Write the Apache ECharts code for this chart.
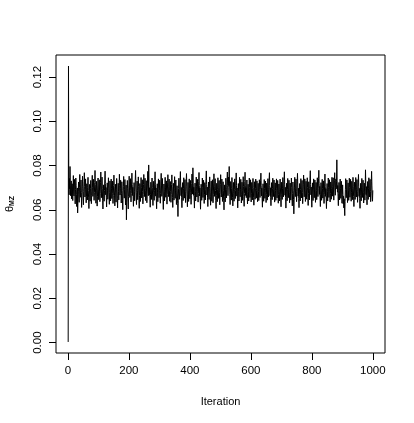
<!DOCTYPE html>
<html>
<head>
<meta charset="utf-8">
<script src="https://cdn.jsdelivr.net/npm/echarts@6/dist/echarts.min.js"></script>
<style>html,body{margin:0;padding:0;background:#fff}#c{width:414px;height:423px}</style>
</head>
<body>
<div id="c"></div>
<script>
// theta_MZ trace values, iterations 1..1000
var trace001_100 = [0.0003,0.1250,0.0703,0.0668,0.0742,0.0695,0.0796,0.0712,0.0664,0.0689,
0.0731,0.0650,0.0676,0.0718,0.0694,0.0642,0.0703,0.0755,0.0681,0.0663,
0.0712,0.0738,0.0670,0.0627,0.0691,0.0744,0.0709,0.0668,0.0615,0.0652,
0.0699,0.0586,0.0640,0.0683,0.0726,0.0671,0.0634,0.0702,0.0760,0.0714,
0.0657,0.0688,0.0735,0.0679,0.0611,0.0649,0.0706,0.0752,0.0697,0.0662,
0.0623,0.0684,0.0729,0.0768,0.0705,0.0658,0.0691,0.0740,0.0676,0.0632,
0.0660,0.0718,0.0692,0.0645,0.0701,0.0747,0.0688,0.0654,0.0606,0.0668,
0.0715,0.0672,0.0639,0.0697,0.0733,0.0682,0.0628,0.0665,0.0721,0.0756,
0.0700,0.0661,0.0694,0.0738,0.0685,0.0643,0.0679,0.0724,0.0778,0.0716,
0.0667,0.0630,0.0686,0.0729,0.0671,0.0617,0.0659,0.0708,0.0744,0.0690];
var trace101_200 = [0.0646,0.0698,0.0736,0.0681,0.0637,0.0673,0.0725,0.0771,0.0709,0.0655,
0.0692,0.0748,0.0695,0.0641,0.0604,0.0662,0.0713,0.0684,0.0639,0.0687,
0.0735,0.0775,0.0719,0.0668,0.0701,0.0656,0.0613,0.0670,0.0722,0.0689,
0.0648,0.0696,0.0745,0.0703,0.0659,0.0625,0.0677,0.0731,0.0685,0.0640,
0.0693,0.0739,0.0698,0.0651,0.0686,0.0730,0.0674,0.0629,0.0666,0.0711,
0.0757,0.0704,0.0663,0.0618,0.0672,0.0716,0.0680,0.0635,0.0690,0.0742,
0.0694,0.0652,0.0609,0.0664,0.0720,0.0683,0.0645,0.0699,0.0761,0.0710,
0.0667,0.0697,0.0734,0.0678,0.0631,0.0675,0.0727,0.0688,0.0644,0.0601,
0.0658,0.0706,0.0751,0.0700,0.0653,0.0692,0.0737,0.0681,0.0622,0.0668,
0.0712,0.0555,0.0633,0.0686,0.0733,0.0695,0.0649,0.0604,0.0661,0.0708];
var trace201_300 = [0.0752,0.0699,0.0656,0.0693,0.0741,0.0688,0.0636,0.0674,0.0726,0.0766,
0.0714,0.0665,0.0702,0.0659,0.0616,0.0671,0.0723,0.0684,0.0641,0.0690,
0.0739,0.0778,0.0717,0.0663,0.0624,0.0679,0.0730,0.0687,0.0646,0.0698,
0.0749,0.0705,0.0657,0.0607,0.0665,0.0719,0.0682,0.0638,0.0694,0.0746,
0.0701,0.0654,0.0691,0.0736,0.0683,0.0627,0.0669,0.0715,0.0760,0.0707,
0.0660,0.0697,0.0743,0.0689,0.0642,0.0676,0.0732,0.0685,0.0632,0.0672,
0.0721,0.0774,0.0711,0.0664,0.0803,0.0716,0.0667,0.0700,0.0653,0.0612,
0.0668,0.0725,0.0691,0.0647,0.0696,0.0744,0.0702,0.0658,0.0620,0.0677,
0.0729,0.0686,0.0643,0.0689,0.0738,0.0772,0.0713,0.0662,0.0699,0.0651,
0.0605,0.0666,0.0718,0.0680,0.0637,0.0692,0.0740,0.0697,0.0655,0.0687];
var trace301_400 = [0.0734,0.0679,0.0630,0.0673,0.0726,0.0765,0.0708,0.0661,0.0695,0.0742,
0.0690,0.0645,0.0602,0.0663,0.0717,0.0684,0.0640,0.0693,0.0747,0.0703,
0.0657,0.0688,0.0731,0.0676,0.0626,0.0670,0.0722,0.0759,0.0706,0.0660,
0.0694,0.0739,0.0686,0.0639,0.0678,0.0728,0.0683,0.0634,0.0669,0.0714,
0.0758,0.0704,0.0656,0.0611,0.0667,0.0720,0.0681,0.0644,0.0698,0.0750,
0.0700,0.0652,0.0689,0.0735,0.0680,0.0624,0.0662,0.0709,0.0676,0.0628,
0.0570,0.0641,0.0697,0.0743,0.0691,0.0648,0.0685,0.0732,0.0773,0.0712,
0.0664,0.0701,0.0655,0.0610,0.0668,0.0723,0.0687,0.0642,0.0696,0.0745,
0.0699,0.0653,0.0690,0.0737,0.0682,0.0633,0.0675,0.0727,0.0764,0.0707,
0.0659,0.0614,0.0671,0.0724,0.0686,0.0638,0.0692,0.0740,0.0698,0.0650];
var trace401_500 = [0.0688,0.0733,0.0678,0.0625,0.0666,0.0719,0.0762,0.0709,0.0671,0.0790,
0.0718,0.0666,0.0702,0.0654,0.0608,0.0665,0.0721,0.0683,0.0640,0.0695,
0.0748,0.0704,0.0658,0.0692,0.0738,0.0684,0.0635,0.0674,0.0729,0.0769,
0.0710,0.0663,0.0699,0.0651,0.0603,0.0662,0.0716,0.0681,0.0643,0.0697,
0.0744,0.0701,0.0656,0.0689,0.0734,0.0679,0.0629,0.0670,0.0723,0.0687,
0.0645,0.0693,0.0742,0.0776,0.0715,0.0667,0.0703,0.0657,0.0615,0.0672,
0.0726,0.0690,0.0647,0.0698,0.0749,0.0705,0.0659,0.0621,0.0677,0.0730,
0.0685,0.0639,0.0686,0.0736,0.0681,0.0632,0.0668,0.0717,0.0763,0.0706,
0.0661,0.0696,0.0741,0.0688,0.0642,0.0606,0.0664,0.0720,0.0682,0.0637,
0.0691,0.0745,0.0700,0.0652,0.0689,0.0733,0.0677,0.0623,0.0669,0.0714];
var trace501_600 = [0.0759,0.0705,0.0658,0.0694,0.0739,0.0685,0.0638,0.0675,0.0727,0.0686,
0.0641,0.0600,0.0660,0.0713,0.0680,0.0636,0.0690,0.0743,0.0701,0.0654,
0.0691,0.0737,0.0771,0.0711,0.0664,0.0702,0.0748,0.0710,0.0796,0.0721,
0.0669,0.0624,0.0676,0.0728,0.0688,0.0644,0.0697,0.0746,0.0703,0.0657,
0.0618,0.0673,0.0724,0.0684,0.0639,0.0692,0.0740,0.0697,0.0651,0.0687,
0.0732,0.0767,0.0709,0.0662,0.0699,0.0653,0.0609,0.0666,0.0719,0.0682,
0.0640,0.0694,0.0747,0.0704,0.0659,0.0693,0.0738,0.0683,0.0631,0.0671,
0.0725,0.0687,0.0643,0.0698,0.0750,0.0706,0.0661,0.0616,0.0674,0.0728,
0.0770,0.0712,0.0665,0.0700,0.0655,0.0689,0.0735,0.0680,0.0627,0.0668,
0.0716,0.0684,0.0640,0.0695,0.0744,0.0701,0.0656,0.0690,0.0736,0.0681];
var trace601_700 = [0.0636,0.0675,0.0724,0.0686,0.0645,0.0696,0.0742,0.0700,0.0657,0.0621,
0.0676,0.0727,0.0690,0.0648,0.0697,0.0739,0.0695,0.0653,0.0688,0.0731,
0.0680,0.0637,0.0673,0.0720,0.0683,0.0642,0.0692,0.0736,0.0699,0.0656,
0.0691,0.0734,0.0766,0.0709,0.0663,0.0698,0.0651,0.0612,0.0667,0.0718,
0.0681,0.0639,0.0689,0.0737,0.0696,0.0652,0.0687,0.0730,0.0678,0.0633,
0.0670,0.0721,0.0685,0.0644,0.0694,0.0741,0.0700,0.0658,0.0693,0.0738,
0.0768,0.0710,0.0664,0.0700,0.0655,0.0619,0.0672,0.0723,0.0686,0.0646,
0.0697,0.0743,0.0702,0.0660,0.0692,0.0735,0.0681,0.0635,0.0674,0.0722,
0.0687,0.0643,0.0695,0.0740,0.0698,0.0654,0.0689,0.0733,0.0679,0.0630,
0.0669,0.0717,0.0683,0.0641,0.0693,0.0739,0.0699,0.0657,0.0614,0.0671];
var trace701_800 = [0.0725,0.0688,0.0647,0.0698,0.0746,0.0703,0.0659,0.0694,0.0738,0.0772,
0.0713,0.0666,0.0702,0.0656,0.0608,0.0667,0.0720,0.0684,0.0641,0.0693,
0.0742,0.0700,0.0655,0.0690,0.0734,0.0680,0.0632,0.0670,0.0721,0.0685,
0.0644,0.0696,0.0744,0.0701,0.0658,0.0618,0.0673,0.0726,0.0689,0.0646,
0.0582,0.0649,0.0699,0.0747,0.0704,0.0660,0.0695,0.0739,0.0684,0.0637,
0.0675,0.0728,0.0765,0.0708,0.0662,0.0698,0.0652,0.0610,0.0668,0.0719,
0.0682,0.0640,0.0692,0.0741,0.0699,0.0654,0.0689,0.0733,0.0679,0.0628,
0.0667,0.0716,0.0757,0.0704,0.0659,0.0694,0.0740,0.0686,0.0638,0.0676,
0.0729,0.0690,0.0648,0.0697,0.0745,0.0702,0.0657,0.0620,0.0675,0.0727,
0.0688,0.0645,0.0696,0.0743,0.0777,0.0715,0.0668,0.0703,0.0658,0.0612];
var trace801_900 = [0.0669,0.0722,0.0685,0.0642,0.0694,0.0740,0.0699,0.0655,0.0690,0.0735,
0.0681,0.0634,0.0672,0.0724,0.0687,0.0646,0.0697,0.0745,0.0703,0.0660,
0.0695,0.0741,0.0779,0.0718,0.0670,0.0706,0.0659,0.0615,0.0671,0.0723,
0.0686,0.0643,0.0692,0.0738,0.0697,0.0653,0.0688,0.0731,0.0677,0.0629,
0.0668,0.0717,0.0762,0.0707,0.0661,0.0696,0.0650,0.0606,0.0665,0.0719,
0.0683,0.0640,0.0693,0.0744,0.0701,0.0656,0.0691,0.0736,0.0682,0.0636,
0.0674,0.0726,0.0689,0.0648,0.0698,0.0747,0.0705,0.0662,0.0699,0.0745,
0.0690,0.0644,0.0685,0.0732,0.0768,0.0712,0.0666,0.0701,0.0740,0.0695,
0.0728,0.0826,0.0734,0.0680,0.0710,0.0659,0.0619,0.0673,0.0724,0.0687,
0.0645,0.0694,0.0739,0.0698,0.0652,0.0686,0.0729,0.0676,0.0630,0.0668];
var trace901_1000 = [0.0713,0.0670,0.0627,0.0661,0.0609,0.0650,0.0604,0.0574,0.0638,0.0692,
0.0741,0.0700,0.0655,0.0690,0.0735,0.0681,0.0633,0.0671,0.0722,0.0686,
0.0643,0.0696,0.0743,0.0701,0.0657,0.0692,0.0738,0.0684,0.0639,0.0677,
0.0729,0.0688,0.0646,0.0698,0.0747,0.0704,0.0660,0.0615,0.0672,0.0725,
0.0690,0.0647,0.0699,0.0746,0.0702,0.0658,0.0693,0.0737,0.0682,0.0634,
0.0673,0.0724,0.0760,0.0706,0.0661,0.0697,0.0651,0.0607,0.0666,0.0720,
0.0684,0.0641,0.0694,0.0742,0.0700,0.0656,0.0690,0.0734,0.0680,0.0631,
0.0670,0.0721,0.0685,0.0644,0.0695,0.0781,0.0718,0.0669,0.0705,0.0659,
0.0623,0.0676,0.0728,0.0689,0.0647,0.0698,0.0745,0.0703,0.0658,0.0693,
0.0738,0.0683,0.0637,0.0675,0.0727,0.0774,0.0712,0.0664,0.0639,0.0688];

var xTicks = [0, 200, 400, 600, 800, 1000];
var yTicks = [0, 0.02, 0.04, 0.06, 0.08, 0.10, 0.12];
var xTitle = 'Iteration';

var values = [].concat(trace001_100, trace101_200, trace201_300, trace301_400, trace401_500,
  trace501_600, trace601_700, trace701_800, trace801_900, trace901_1000);
var seriesData = values.map(function (v, i) { return [i + 1, v]; });

// R-style 4% axis padding
var n = values.length;
var xPad = (n - 1) * 0.04;
var yMin = Math.min.apply(null, values), yMax = Math.max.apply(null, values);
var yPad = (yMax - yMin) * 0.04;

var font = 'Liberation Sans, Arial, Helvetica, sans-serif';
var chart = echarts.init(document.getElementById('c'), null, {renderer: 'canvas'});
chart.setOption({
  animation: false,
  backgroundColor: '#fff',
  grid: {left: 56, right: 29, top: 55, bottom: 70, show: true, borderColor: '#000', borderWidth: 1,
    backgroundColor: 'transparent', containLabel: false, outerBoundsMode: 'none'},
  xAxis: {
    type: 'value', min: 1 - xPad, max: n + xPad,
    axisLine: {show: false, onZero: false},
    splitLine: {show: false},
    axisTick: {show: true, inside: false, customValues: xTicks, length: 7, lineStyle: {color: '#000', width: 1}},
    axisLabel: {customValues: xTicks, margin: 12, color: '#000', fontSize: 11.5, fontFamily: font,
      formatter: function (v) { return String(v); }},
    name: xTitle, nameLocation: 'middle', nameGap: 43,
    nameTextStyle: {color: '#000', fontSize: 11, fontFamily: font}
  },
  yAxis: {
    type: 'value', min: yMin - yPad, max: yMax + yPad,
    axisLine: {show: false, onZero: false},
    splitLine: {show: false},
    axisTick: {show: true, inside: false, customValues: yTicks, length: 7, lineStyle: {color: '#000', width: 1}},
    axisLabel: {customValues: yTicks, rotate: 90, margin: 12, color: '#000', fontSize: 11.5, fontFamily: font,
      formatter: function (v) { return v.toFixed(2); }},
    name: '{t|θ}{s|MZ}', nameLocation: 'middle', nameRotate: 90, nameGap: 40,
    nameTextStyle: {color: '#000', fontFamily: font,
      rich: {t: {fontSize: 11, color: '#000', fontFamily: font},
             s: {fontSize: 7, fontWeight: 'bold', color: '#000', fontFamily: font, verticalAlign: 'bottom', padding: [6, 0, 0, 0]}}}
  },
  series: [{
    type: 'line', data: seriesData, showSymbol: false, symbol: 'none',
    lineStyle: {color: '#000', width: 1}, silent: true
  }]
});
</script>
</body>
</html>
